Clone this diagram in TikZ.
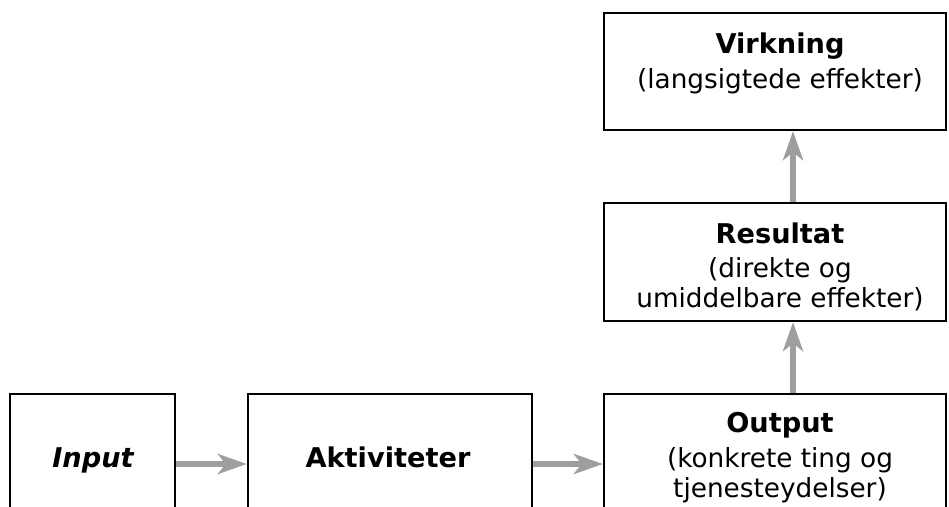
\documentclass[tikz,border=0pt]{standalone}
\usepackage{fontspec}
\setmainfont{DejaVu Sans}
\usetikzlibrary{arrows.meta}
\definecolor{arrgray}{RGB}{158,158,158}
\tikzset{
  box/.style={draw=black, line width=2.3pt, fill=white, inner sep=0pt},
  lbl/.style={anchor=base, inner sep=0pt, font=\fontsize{26.3}{30}\selectfont},
  blbl/.style={lbl, font=\fontsize{27.2}{30}\selectfont\bfseries},
  arr/.style={draw=arrgray, line width=6.5pt, -{Stealth[length=29pt, width=20pt, inset=8pt]}}
}
\begin{document}
\begin{tikzpicture}[x=1pt, y=-1pt]
\useasboundingbox (0,0) rectangle (949,506);
\clip (0,0) rectangle (949,506);
% boxes
\node[box, minimum width=342pt, minimum height=117pt] (vir) at (775,71.5) {};
\node[box, minimum width=342pt, minimum height=118pt] (res) at (775,262) {};
\node[box, minimum width=342pt, minimum height=140pt] (out) at (775,464) {};
\node[box, minimum width=165pt, minimum height=140pt] (inp) at (92.5,464) {};
\node[box, minimum width=284pt, minimum height=140pt] (akt) at (390,464) {};
% texts
\node[blbl] (v1) at (780,53) {Virkning};
\node[lbl]  (v2) at (780,88) {(langsigtede effekter)};
\node[blbl] (r1) at (780,243) {Resultat};
\node[lbl]  (r2) at (780,277) {(direkte og};
\node[lbl]  (r3) at (780,307) {umiddelbare effekter)};
\node[blbl] (o1) at (780,432) {Output};
\node[lbl]  (o2) at (780,467) {(konkrete ting og};
\node[lbl]  (o3) at (780,497) {tjenesteydelser)};
\node[blbl, font=\fontsize{27.2}{30}\selectfont\bfseries\itshape] (t1) at (93,467) {Input};
\node[blbl] (t2) at (388,467) {Aktiviteter};
% arrows
\draw[arr] (inp) -- (akt);
\draw[arr] (akt) -- (out);
\draw[arr] ([xshift=18pt]out.north) -- ([xshift=18pt]res.south);
\draw[arr] ([xshift=18pt]res.north) -- ([xshift=18pt]vir.south);
\end{tikzpicture}
\end{document}
